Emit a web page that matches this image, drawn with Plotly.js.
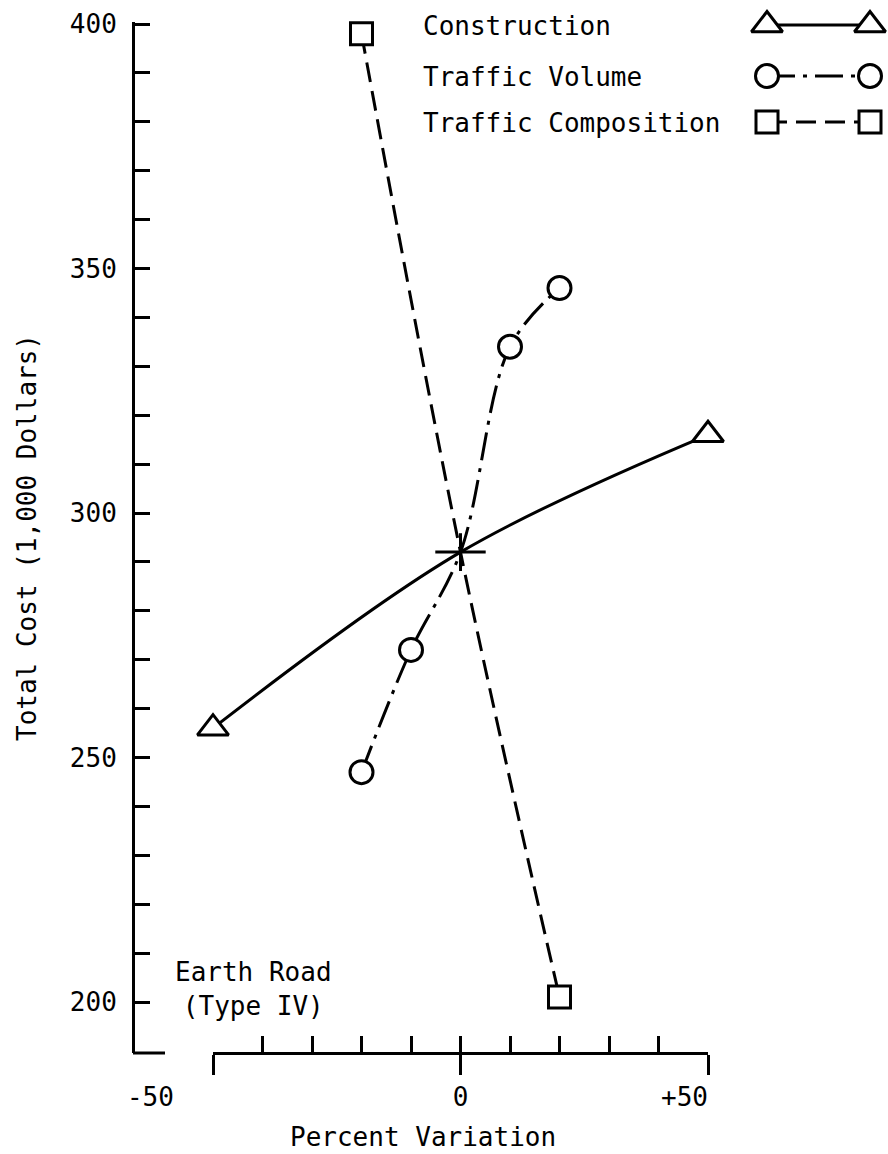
<!DOCTYPE html>
<html><head><meta charset="utf-8">
<script src="https://cdn.plot.ly/plotly-3.0.1.min.js"></script>
<style>html,body{margin:0;padding:0;background:#fff}#chart{width:888px;height:1154px}</style>
</head><body><div id="chart"></div>
<script>
// ---- data ----
const seriesNames = ['Construction', 'Traffic Volume', 'Traffic Composition'];
const constructionX = [-50, 0, 50];
const constructionY = [256, 292, 316];
const volumeX = [-20, -10, 0, 10, 20];
const volumeY = [247, 272, 292, 334, 346];
const compositionX = [-20, 0, 20];
const compositionY = [398, 292, 201];
const baseX = [0];
const baseY = [292];
const yTickVals = [200,210,220,230,240,250,260,270,280,290,300,310,320,330,340,350,360,370,380,390,400];
const xTickVals = [-50, 0, 50];
const xTickLabels = ['-50', '0', '+50'];
const xMinorTickVals = [-40, -30, -20, -10, 0, 10, 20, 30, 40];
const yTitle = 'Total Cost (1,000 Dollars)';
const xTitle = 'Percent Variation';
const noteText = 'Earth Road<br>(Type IV)';

// ---- geometry helpers ----
const W = 888, H = 1154, L = 133, R = 0, T = 22, B = 101;
const plotW = W - L - R, plotH = H - T - B;
const yPx200 = 1002, yPxPerUnit = 4.89;
const pxToY = p => 200 + (yPx200 - p) / yPxPerUnit;
const pxToPaperX = p => (p - L) / plotW;
const pxToPaperY = p => (H - B - p) / plotH;
const yRange = [pxToY(H - B), pxToY(T)];

const FONT = 'DejaVu Sans Mono, Liberation Mono, monospace';
const FS = 26;
const BLACK = '#000';
const nb = n => '\u00a0'.repeat(n);
const xLabelPad = [8, 0, 3];
const xTickText = xTickLabels.map((t, i) => t + nb(xLabelPad[i]));
const yTickText = yTickVals.map(v => (v % 50 === 0 ? String(v) : ''));

const styles = [
  {symbol: 'triangle-up', size: 27, dash: 'solid'},
  {symbol: 'circle', size: 23, dash: '28px,8px,4px,8px'},
  {symbol: 'square', size: 22, dash: '20px,9px'}
];
const seriesX = [constructionX, volumeX, compositionX];
const seriesY = [constructionY, volumeY, compositionY];

const traces = [];
seriesX.forEach((xs, i) => {
  // the base case (shared centre point) is shown by the cross, not by a series marker
  const sizes = xs.map(x => (x === baseX[0] ? 0 : styles[i].size));
  traces.push({
    x: xs, y: seriesY[i], type: 'scatter', mode: 'lines+markers', name: seriesNames[i],
    cliponaxis: false, showlegend: false, hoverinfo: 'skip',
    line: {color: BLACK, width: 3, shape: 'spline', dash: styles[i].dash},
    marker: {symbol: styles[i].symbol, size: sizes, opacity: 1, color: '#fff', line: {color: BLACK, width: 3}}
  });
});
// base-case cross
traces.push({x: baseX, y: baseY, type: 'scatter', mode: 'markers', cliponaxis: false, showlegend: false, hoverinfo: 'skip',
  marker: {symbol: 'line-ew-open', size: 36, opacity: 1, color: BLACK, line: {color: BLACK, width: 3}}});
traces.push({x: baseX, y: baseY, type: 'scatter', mode: 'markers', cliponaxis: false, showlegend: false, hoverinfo: 'skip',
  marker: {symbol: 'line-ns-open', size: 27, opacity: 1, color: BLACK, line: {color: BLACK, width: 3}}});

// custom legend samples (markers at both ends)
const legendRowPx = [25, 76, 122];
const legendSampleX = [0, 1];
seriesNames.forEach((n, i) => {
  const yy = pxToY(legendRowPx[i]);
  traces.push({
    x: legendSampleX, y: [yy, yy], xaxis: 'x2', yaxis: 'y', type: 'scatter', mode: 'lines+markers',
    cliponaxis: false, showlegend: false, hoverinfo: 'skip',
    line: {color: BLACK, width: 3, dash: styles[i].dash},
    marker: {symbol: styles[i].symbol, size: styles[i].size, opacity: 1, color: '#fff', line: {color: BLACK, width: 3}}
  });
});

const annotations = seriesNames.map((n, i) => ({
  text: n, xref: 'paper', x: pxToPaperX(421), xanchor: 'left',
  yref: 'y', y: pxToY(legendRowPx[i] + 1), yanchor: 'middle', showarrow: false
}));
annotations.push({text: noteText, xref: 'paper', x: pxToPaperX(253), xanchor: 'center',
  yref: 'y', y: pxToY(989), yanchor: 'middle', align: 'center', showarrow: false});
annotations.push({text: xTitle, xref: 'paper', x: pxToPaperX(423), xanchor: 'center',
  yref: 'paper', y: pxToPaperY(1137), yanchor: 'middle', showarrow: false});

const layout = {
  width: W, height: H,
  margin: {l: L, r: R, t: T, b: B},
  paper_bgcolor: '#fff', plot_bgcolor: 'rgba(0,0,0,0)',
  font: {family: FONT, size: FS, color: BLACK},
  showlegend: false,
  xaxis: {
    domain: [pxToPaperX(213), pxToPaperX(708)], range: [-50, 50],
    anchor: 'free', position: 0,
    showline: true, linecolor: BLACK, linewidth: 3,
    tickmode: 'array', tickvals: xTickVals, ticktext: xTickText,
    ticks: 'outside', ticklen: 20, tickwidth: 3, tickcolor: BLACK,
    showgrid: false, zeroline: false, fixedrange: true,
    minor: {tickmode: 'array', tickvals: xMinorTickVals, ticks: 'inside', ticklen: 16, tickwidth: 3, tickcolor: BLACK, showgrid: false}
  },
  yaxis: {
    domain: [0, 1], range: yRange,
    anchor: 'free', position: 0,
    showline: true, linecolor: BLACK, linewidth: 3,
    tickmode: 'array', tickvals: yTickVals, ticktext: yTickText,
    ticks: 'inside', ticklen: 15, tickwidth: 3, tickcolor: BLACK,
    ticklabelstandoff: 10,
    showgrid: false, zeroline: false, fixedrange: true,
    title: {text: yTitle, standoff: 24, font: {family: FONT, size: FS, color: BLACK}}
  },
  xaxis2: {
    domain: [pxToPaperX(767), pxToPaperX(870)], range: [0, 1],
    anchor: 'y', visible: false, showgrid: false, zeroline: false, fixedrange: true
  },
  shapes: [{type: 'line', xref: 'paper', yref: 'paper', x0: 0, x1: pxToPaperX(165), y0: 0, y1: 0,
    line: {color: BLACK, width: 3}}],
  annotations: annotations
};

Plotly.newPlot('chart', traces, layout, {staticPlot: true, displayModeBar: false});
</script>
</body></html>
